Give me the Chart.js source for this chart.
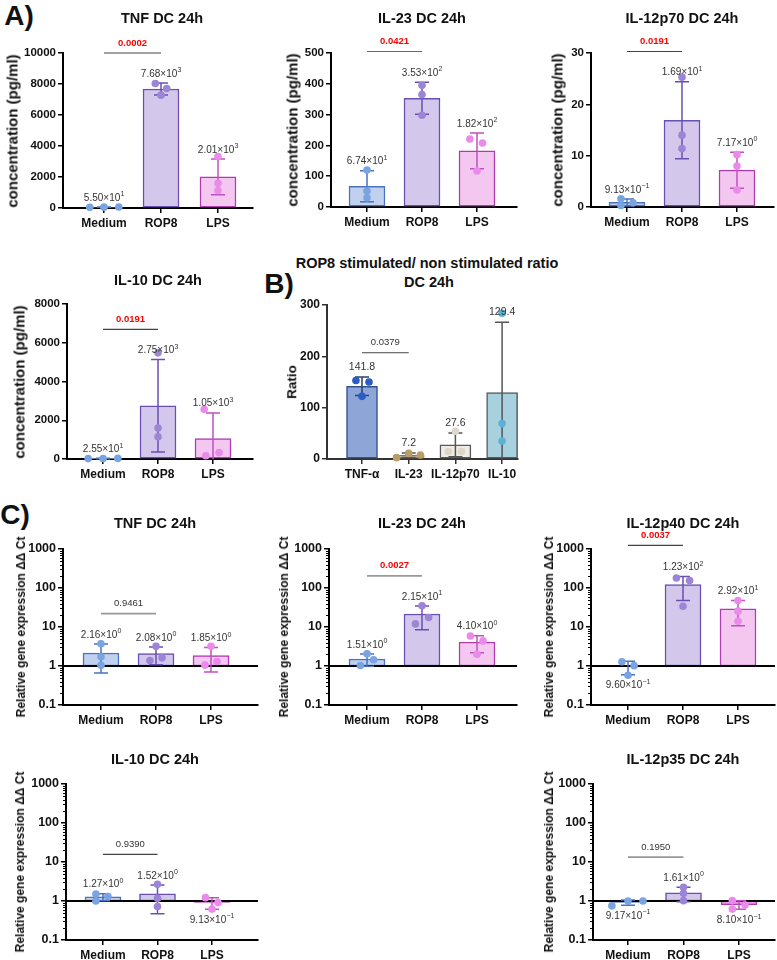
<!DOCTYPE html>
<html><head><meta charset="utf-8">
<script src="https://cdn.jsdelivr.net/npm/chart.js@4"></script>
<style>
html,body{margin:0;padding:0;background:#fff}
body{width:777px;height:960px;position:relative;overflow:hidden;font-family:'Liberation Sans',Arial,sans-serif;color:#111}
.t{position:absolute;font-weight:bold;white-space:nowrap;line-height:1;transform:translate(-50%,-50%)}
.r{transform:translate(-50%,-50%) rotate(-90deg)}
canvas{position:absolute}
</style></head><body>
<script>
// ---------- categories ----------
const groups = ['Medium', 'ROP8', 'LPS'];
const ratioCats = ['TNF-α', 'IL-23', 'IL-12p70', 'IL-10'];

// ---------- A) cytokine concentration (pg/ml) ----------
const tnfMean = [55.0, 7680, 2010];
const tnfSD = [10, 385, 1150];
const tnfPts = [[45, 55, 65], [8030, 7710, 7280], [3320, 1600, 1130]];
const tnfJit = [[-0.25, 0, 0.26], [-0.1, 0.1, 0], [0, 0, 0]];
const tnfP = '0.0002';

const il23Mean = [67.4, 353, 182];
const il23SD = [50, 52, 58];
const il23Pts = [[120, 52, 30], [395, 365, 298], [221, 208, 117]];
const il23Jit = [[0, 0, 0], [0, 0, 0], [-0.13, 0.1, 0]];
const il23P = '0.0421';

const il12p70Mean = [0.913, 16.9, 7.17];
const il12p70SD = [0.65, 7.5, 3.5];
const il12p70Pts = [[1.6, 0.3, 0.84], [25.3, 14.0, 11.4], [10.2, 8.0, 3.3]];
const il12p70Jit = [[-0.11, -0.11, 0.11], [0, 0, 0], [0, 0, 0]];
const il12p70P = '0.0191';

const il10Mean = [25.5, 2750, 1050];
const il10SD = [8, 2390, 1330];
const il10Pts = [[20, 25, 30], [5480, 1600, 1150], [2570, 330, 170]];
const il10Jit = [[-0.27, 0, 0.27], [0, 0, 0], [-0.16, 0.11, -0.13]];
const il10P = '0.0191';

// ---------- B) ROP8 stimulated / non stimulated ratio ----------
const ratioMean = [141.8, 7.2, 27.6, 129.4];
const ratioSD = [18, 4.3, 23, 137];
const ratioPts = [[153, 150, 122], [2.6, 11, 7.8], [54, 14.5, 14.5], [284, 69, 35]];
const ratioJit = [[-0.13, 0.15, 0], [-0.26, 0, 0.25], [0, -0.15, 0.13], [0, 0, 0]];
const ratioP = '0.0379';

// ---------- C) relative gene expression ΔΔCt ----------
const qTnfMean = [2.16, 2.08, 1.85];
const qTnfSD = [1.5, 1.0, 1.15];
const qTnfPts = [[3.72, 1.72, 1.04], [3.2, 1.38, 1.62], [3.2, 1.05, 1.3]];
const qTnfJit = [[0, 0, 0], [0, -0.11, 0.11], [0, -0.11, 0.11]];
const qTnfP = '0.9461';

const qIl23Mean = [1.51, 21.5, 4.10];
const qIl23SD = [0.52, 13, 1.9];
const qIl23Pts = [[2.05, 1.45, 1.03], [35, 12, 17.5], [5.9, 4.4, 2.0]];
const qIl23Jit = [[0, 0.12, -0.12], [0, -0.12, 0.12], [-0.12, 0.11, 0]];
const qIl23P = '0.0027';

const qIl12p40Mean = [0.96, 123, 29.2];
const qIl12p40SD = [0.36, 75, 18.5];
const qIl12p40Pts = [[1.29, 1.02, 0.58], [180, 155, 34], [48, 25.5, 14]];
const qIl12p40Jit = [[-0.11, 0.11, 0], [-0.12, 0.12, 0], [0, 0, 0]];
const qIl12p40P = '0.0037';

const qIl10Mean = [1.27, 1.52, 0.913];
const qIl10SD = [0.26, 1.05, 0.3];
const qIl10Pts = [[1.51, 1.0, 1.3], [2.67, 1.17, 0.72], [1.22, 0.91, 0.62]];
const qIl10Jit = [[-0.13, -0.13, 0.09], [0, 0, 0], [-0.12, 0.11, 0]];
const qIl10P = '0.9390';

const qIl12p35Mean = [0.917, 1.61, 0.810];
const qIl12p35SD = [0.14, 0.65, 0.2];
const qIl12p35Pts = [[0.75, 1.0, 1.0], [2.24, 1.57, 1.02], [1.02, 0.79, 0.62]];
const qIl12p35Jit = [[-0.29, 0, 0.27], [0, 0, 0], [-0.12, 0.11, -0.12]];
const qIl12p35P = '0.1950';

// ---------- styles ----------
const FONT = "'Liberation Sans', Arial, sans-serif";
const groupStyle = [
  {fill: '#bfd1ee', border: '#4a72c0', point: '#7aa3e2', err: '#4a72c0'},
  {fill: '#d3c8eb', border: '#6a4fb3', point: '#9c85d6', err: '#6a4fb3'},
  {fill: '#f4c7f1', border: '#b03db0', point: '#ea8aea', err: '#c050c0'}
];
const ratioStyle = [
  {fill: '#8da6d7', border: '#34508f', point: '#2b5cc5', err: '#2d3f6e'},
  {fill: '#cdb994', border: '#8a7650', point: '#b99d69', err: '#555'},
  {fill: '#efece5', border: '#5a5a5a', point: '#ddd7ca', err: '#555'},
  {fill: '#a7d1df', border: '#5a5a5a', point: '#5db2d3', err: '#555'}
];

const panels = [
  {title: 'TNF DC 24h', tx: 162, ty: 18, area: [63, 53, 253, 208], c0: 104, sp: 57, max: 10000, step: 2000,
   cats: groups, mean: tnfMean, sd: tnfSD, pts: tnfPts, jit: tnfJit, p: tnfP, sigY: 10000, red: true, sigC: '#444',
   ylab: 'concentration (pg/ml)', yx: 12, tick: 11.5},
  {title: 'IL-23 DC 24h', tx: 422, ty: 18, area: [331, 53, 517, 207], c0: 367, sp: 55, max: 500, step: 100,
   cats: groups, mean: il23Mean, sd: il23SD, pts: il23Pts, jit: il23Jit, p: il23P, sigY: 505, red: true, sigC: '#666',
   ylab: 'concentration (pg/ml)', yx: 292, tick: 11.5},
  {title: 'IL-12p70 DC 24h', tx: 682, ty: 18, area: [591, 53, 774, 207], c0: 627, sp: 55, max: 30, step: 10,
   cats: groups, mean: il12p70Mean, sd: il12p70SD, pts: il12p70Pts, jit: il12p70Jit, p: il12p70P, sigY: 30.3, red: true, sigC: '#444',
   ylab: 'concentration (pg/ml)', yx: 557, tick: 11.5},
  {title: 'IL-10 DC 24h', tx: 158, ty: 280, area: [67, 304, 253, 459], c0: 103, sp: 55, max: 8000, step: 2000,
   cats: groups, mean: il10Mean, sd: il10SD, pts: il10Pts, jit: il10Jit, p: il10P, sigY: 6690, red: true, sigC: '#444',
   ylab: 'concentration (pg/ml)', yx: 19, tick: 11.5},
  {title: null, area: [327, 305, 518, 459], c0: 362, sp: 46.7, max: 300, step: 100, bw: 31, plain: true,
   cats: ratioCats, mean: ratioMean, sd: ratioSD, pts: ratioPts, jit: ratioJit, p: ratioP, sigY: 207, red: false, sigC: '#444',
   ylab: 'Ratio', yx: 292, tick: 12, style: ratioStyle, axisC: '#333', ylabSize: 13.5},
  {title: 'TNF DC 24h', tx: 155, ty: 523, area: [63, 549, 258, 705], c0: 101, sp: 55, log: true,
   cats: groups, mean: qTnfMean, sd: qTnfSD, pts: qTnfPts, jit: qTnfJit, p: qTnfP, sigY: 22, red: false, sigC: '#999',
   ylab: 'Relative gene expression ΔΔ Ct', yx: 21, tick: 12.5},
  {title: 'IL-23 DC 24h', tx: 422, ty: 523, area: [329, 549, 517, 705], c0: 367, sp: 55, log: true,
   cats: groups, mean: qIl23Mean, sd: qIl23SD, pts: qIl23Pts, jit: qIl23Jit, p: qIl23P, sigY: 205, red: true, sigC: '#999',
   ylab: 'Relative gene expression ΔΔ Ct', yx: 284, tick: 12.5},
  {title: 'IL-12p40 DC 24h', tx: 683, ty: 523, area: [591, 549, 775, 705], c0: 628, sp: 55, log: true,
   cats: groups, mean: qIl12p40Mean, sd: qIl12p40SD, pts: qIl12p40Pts, jit: qIl12p40Jit, p: qIl12p40P, sigY: 1236, red: true, sigC: '#444',
   ylab: 'Relative gene expression ΔΔ Ct', yx: 549, tick: 12.5},
  {title: 'IL-10 DC 24h', tx: 155, ty: 759, area: [66, 784, 258, 940], c0: 103, sp: 54.5, log: true,
   cats: groups, mean: qIl10Mean, sd: qIl10SD, pts: qIl10Pts, jit: qIl10Jit, p: qIl10P, sigY: 15.7, red: false, sigC: '#444',
   ylab: 'Relative gene expression ΔΔ Ct', yx: 20, tick: 12.5},
  {title: 'IL-12p35 DC 24h', tx: 683, ty: 759, area: [593, 784, 775, 940], c0: 628, sp: 55.5, log: true,
   cats: groups, mean: qIl12p35Mean, sd: qIl12p35SD, pts: qIl12p35Pts, jit: qIl12p35Jit, p: qIl12p35P, sigY: 13.4, red: false, sigC: '#999',
   ylab: 'Relative gene expression ΔΔ Ct', yx: 549, tick: 12.5}
];

function addText(txt, x, y, size, cls) {
  const d = document.createElement('div');
  d.className = 't' + (cls ? ' ' + cls : '');
  d.textContent = txt;
  d.style.left = x + 'px'; d.style.top = y + 'px'; d.style.fontSize = size + 'px';
  document.body.appendChild(d);
  return d;
}

addText('A)', 19, 16, 28);
addText('B)', 279, 284, 28);
addText('C)', 15, 515, 28);
addText('ROP8 stimulated/ non stimulated ratio', 427, 263, 14.5);
addText('DC 24h', 429, 282, 14.5);

function drawSci(ctx, m, x, y) {
  let e = Math.floor(Math.log10(m));
  let mant = m / Math.pow(10, e);
  if (Number(mant.toFixed(2)) >= 10) { e += 1; mant = m / Math.pow(10, e); }
  const base = mant.toFixed(2) + '×10';
  const sup = String(e).replace('-', '−');
  ctx.font = '10px ' + FONT;
  const w1 = ctx.measureText(base).width;
  ctx.font = '7px ' + FONT;
  const w2 = ctx.measureText(sup).width;
  const x0 = x - (w1 + w2) / 2;
  ctx.textAlign = 'left'; ctx.textBaseline = 'alphabetic';
  ctx.font = '10px ' + FONT;
  ctx.fillText(base, x0, y + 3.6);
  ctx.font = '7px ' + FONT;
  ctx.fillText(sup, x0 + w1 + 0.3, y - 0.8);
}

function overlay(p) {
  const style = p.style || groupStyle;
  return {
    id: 'ov',
    beforeDatasetDraw(chart, args) {
      if (args.index !== 1) return;
      const ctx = chart.ctx, xs = chart.scales.x, ys = chart.scales.y, a = chart.chartArea;
      ctx.save();
      if (p.log) {
        const y1 = ys.getPixelForValue(1);
        ctx.strokeStyle = '#000'; ctx.lineWidth = 2;
        ctx.beginPath(); ctx.moveTo(a.left, y1); ctx.lineTo(a.right, y1); ctx.stroke();
      }
      p.mean.forEach((m, i) => {
        const x = xs.getPixelForValue(i);
        const yM = ys.getPixelForValue(m);
        const yT = ys.getPixelForValue(m + p.sd[i]);
        ctx.strokeStyle = style[i].err; ctx.lineWidth = 1.5;
        ctx.beginPath();
        ctx.moveTo(x, yM); ctx.lineTo(x, yT);
        ctx.moveTo(x - 7, yT); ctx.lineTo(x + 7, yT);
        const lo = m - p.sd[i];
        if (p.log) {
          if (lo > 0) {
            const yB = ys.getPixelForValue(lo);
            ctx.moveTo(x, yM); ctx.lineTo(x, yB);
            ctx.moveTo(x - 7, yB); ctx.lineTo(x + 7, yB);
          }
        } else if (lo > 0) {
          const yB = ys.getPixelForValue(lo);
          ctx.moveTo(x, yM); ctx.lineTo(x, yB);
          ctx.moveTo(x - 7, yB); ctx.lineTo(x + 7, yB);
        } else {
          ctx.moveTo(x, yM); ctx.lineTo(x, a.bottom);
        }
        ctx.stroke();
      });
      ctx.restore();
    },
    afterDraw(chart) {
      const ctx = chart.ctx, xs = chart.scales.x, ys = chart.scales.y, a = chart.chartArea;
      ctx.save();
      ctx.fillStyle = '#333';
      // value labels
      p.mean.forEach((m, i) => {
        const x = xs.getPixelForValue(i);
        let y;
        if (p.log && m < 1) y = ys.getPixelForValue(m - p.sd[i]) + 10;
        else y = ys.getPixelForValue(m + p.sd[i]) - 10;
        if (p.plain) {
          ctx.font = '10.5px ' + FONT; ctx.textAlign = 'center'; ctx.textBaseline = 'middle';
          ctx.fillText(m.toFixed(1), x, y);
        } else {
          drawSci(ctx, m, x, y);
        }
      });
      // significance bracket
      const sx0 = xs.getPixelForValue(0), sx1 = xs.getPixelForValue(1), sy = ys.getPixelForValue(p.sigY);
      ctx.strokeStyle = p.sigC; ctx.lineWidth = p.sigC === '#999' ? 1.8 : 1.1;
      ctx.beginPath(); ctx.moveTo(sx0, sy); ctx.lineTo(sx1, sy); ctx.stroke();
      ctx.font = (p.red ? 'bold ' : '') + '9.5px ' + FONT;
      ctx.fillStyle = p.red ? '#ff0000' : '#333';
      ctx.textAlign = 'center'; ctx.textBaseline = 'middle';
      ctx.fillText(p.p, (sx0 + sx1) / 2, sy - 10);
      // minor log ticks
      if (p.log) {
        ctx.strokeStyle = '#000'; ctx.lineWidth = 1;
        ctx.beginPath();
        for (let d = -1; d <= 2; d++) {
          for (let k = 2; k <= 9; k++) {
            const yy = Math.round(ys.getPixelForValue(k * Math.pow(10, d))) + 0.5;
            ctx.moveTo(a.left - 3, yy); ctx.lineTo(a.left, yy);
          }
        }
        ctx.stroke();
      }
      ctx.restore();
    }
  };
}

const PADT = 40, PADR = 10, YW = 60, XH = 28;

panels.forEach(p => {
  const [L, T, R, B] = p.area;
  const style = p.style || groupStyle;
  const cv = document.createElement('canvas');
  const w = (R - L) + YW + PADR, h = (B - T) + PADT + XH;
  cv.width = w; cv.height = h;
  cv.style.width = w + 'px'; cv.style.height = h + 'px';
  cv.style.left = (L - YW) + 'px'; cv.style.top = (T - PADT) + 'px';
  document.body.appendChild(cv);

  if (p.title) addText(p.title, p.tx, p.ty, 14.5);
  addText(p.ylab, p.yx, (T + B) / 2, p.ylabSize || (p.log ? 12 : 15), 'r');

  const axisC = p.axisC || '#000';
  const barData = p.mean.map((m, i) => ({x: i, y: p.log ? [1, m] : m}));
  const ptData = [], ptCol = [];
  p.pts.forEach((arr, i) => arr.forEach((v, j) => {
    ptData.push({x: i + p.jit[i][j], y: v});
    ptCol.push(style[i].point);
  }));

  const yScale = p.log ? {
    type: 'logarithmic', min: 0.1, max: 1000,
    afterBuildTicks: s => { s.ticks = [0.1, 1, 10, 100, 1000].map(v => ({value: v, major: true})); },
    ticks: {callback: v => (v < 1 ? '0.1' : String(v)), color: '#111', font: {family: FONT, size: p.tick, weight: 'bold'}, padding: 2, autoSkip: false}
  } : {
    type: 'linear', min: 0, max: p.max,
    ticks: {stepSize: p.step, callback: v => String(v), color: '#111', font: {family: FONT, size: p.tick, weight: 'bold'}, padding: 2, autoSkip: false}
  };
  Object.assign(yScale, {
    grid: {display: true, drawOnChartArea: false, drawTicks: true, tickLength: 5, color: axisC, lineWidth: 1.5},
    border: {display: true, color: axisC, width: 2},
    afterFit: s => { s.width = YW; }
  });

  new Chart(cv, {
    type: 'bar',
    data: {
      datasets: [
        {type: 'bar', data: barData, order: 2, backgroundColor: style.map(s => s.fill), borderColor: style.map(s => s.border),
         borderWidth: 1.5, borderSkipped: false, barThickness: p.bw || 36},
        {type: 'scatter', data: ptData, order: 0, pointBackgroundColor: ptCol, pointBorderWidth: 0, pointRadius: 3.8, clip: false}
      ]
    },
    options: {
      responsive: false, animation: false, devicePixelRatio: 1, events: [],
      layout: {padding: {top: PADT, right: PADR, left: 0, bottom: 0}},
      plugins: {legend: {display: false}, tooltip: {enabled: false}, title: {display: false}},
      scales: {
        x: {
          type: 'linear', offset: false,
          min: (L - p.c0) / p.sp, max: (R - p.c0) / p.sp,
          afterBuildTicks: s => { s.ticks = p.cats.map((c, i) => ({value: i})); },
          ticks: {callback: v => p.cats[v], color: '#111', font: {family: FONT, size: 12, weight: 'bold'}, padding: 3, autoSkip: false, maxRotation: 0},
          grid: {display: true, offset: false, drawOnChartArea: false, drawTicks: true, tickLength: 5, color: axisC, lineWidth: 1.5},
          border: {display: true, color: axisC, width: 2},
          afterFit: s => { s.height = XH; }
        },
        y: yScale
      }
    },
    plugins: [overlay(p)]
  });
});
</script>
</body></html>
